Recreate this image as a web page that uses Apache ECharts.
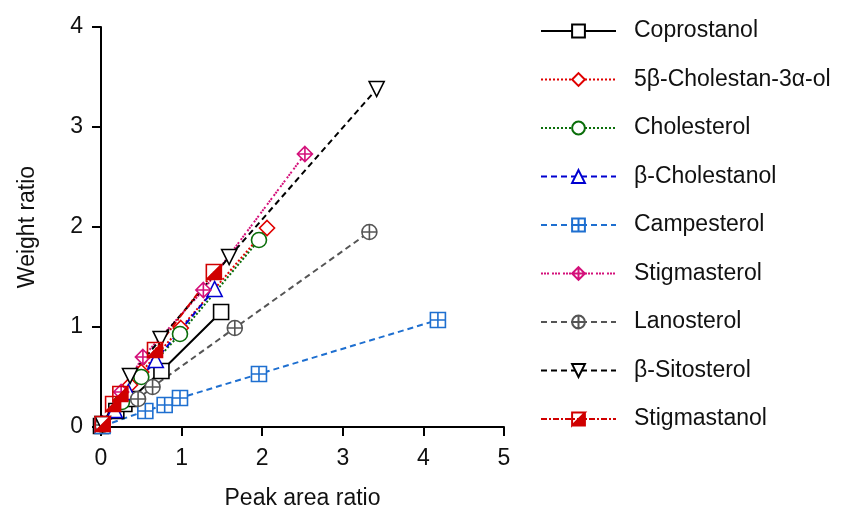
<!DOCTYPE html>
<html>
  <head>
    <title>Calibration</title>
    <style>
      html,
      body {
        height: 100%;
        margin: 0;
        padding: 0;
        background: #fff;
      }
      #chart-container {
        width: 841px;
        height: 508px;
      }
    </style>
    <script src="https://cdn.jsdelivr.net/npm/echarts@6/dist/echarts.min.js"></script>
  </head>
  <body>
    <div id="chart-container"></div>

    <script>
      // 各化合物的数据点 [峰面积比, 重量比]
      var coprostanol = [[0, 0.01], [0.19, 0.16], [0.29, 0.23], [0.37, 0.28], [0.75, 0.56], [1.49, 1.15]];
      var cholestanol5b = [[0.02, 0.03], [0.25, 0.27], [0.36, 0.42], [0.5, 0.55], [0.99, 0.99], [2.06, 1.99]];
      var cholesterol = [[0.02, 0.03], [0.26, 0.25], [0.5, 0.5], [0.98, 0.93], [1.96, 1.87]];
      var bCholestanol = [[0.02, 0.03], [0.17, 0.17], [0.34, 0.35], [0.68, 0.67], [1.41, 1.38]];
      var campesterol = [[0.02, 0.01], [0.55, 0.16], [0.79, 0.22], [0.98, 0.29], [1.96, 0.53], [4.18, 1.07]];
      var stigmasterol = [[0.02, 0.03], [0.25, 0.35], [0.52, 0.7], [1.27, 1.37], [2.53, 2.73]];
      var lanosterol = [[0.02, 0.02], [0.46, 0.28], [0.64, 0.4], [1.66, 0.99], [3.33, 1.95]];
      var bSitosterol = [[0.02, 0.03], [0.36, 0.51], [0.74, 0.88], [1.59, 1.7], [3.42, 3.38]];
      var stigmastanol = [[0.02, 0.03], [0.15, 0.23], [0.24, 0.33], [0.67, 0.77], [1.4, 1.55]];

      var names = [
        "Coprostanol",
        "5β-Cholestan-3α-ol",
        "Cholesterol",
        "β-Cholestanol",
        "Campesterol",
        "Stigmasterol",
        "Lanosterol",
        "β-Sitosterol",
        "Stigmastanol",
      ];

      // 自定义符号
      var sqCross = "path://M0,0 L10,0 L10,10 L0,10 Z M5,0 L5,10 M0,5 L10,5";
      var diaCross = "path://M5,0 L10,5 L5,10 L0,5 Z M5,0 L5,10 M0,5 L10,5";
      var circPlus = "path://M5,0 A5,5 0 1 1 4.99,0 Z M5,0 L5,10 M0,5 L10,5";
      var triDown = "path://M0,0 L10,0 L5,9 Z";
      var halfSq = "path://M0,0 L10,0 L10,10 L0,10 Z M0,0 L0,10 L10,0 Z";

      function mk(name, data, color, type, symbol, fill, width) {
        return {
          name: name,
          type: "line",
          data: data,
          symbol: symbol,
          symbolSize: 15,
          showAllSymbol: true,
          lineStyle: { color: color, type: type, width: width || 2 },
          itemStyle: { color: fill || "#fff", borderColor: color, borderWidth: 1.6 },
          z: 2,
        };
      }

      var myChart = echarts.init(document.getElementById("chart-container"), "", {
        renderer: "canvas",
      });

      var option = {
        animation: false,
        textStyle: { fontFamily: "Liberation Sans, Arial, sans-serif" },
        grid: { left: 101, right: 337, top: 27, bottom: 81, containLabel: false, outerBoundsMode: "none" },
        xAxis: {
          type: "value",
          min: 0,
          max: 5,
          interval: 1,
          name: "Peak area ratio",
          nameLocation: "middle",
          nameGap: 60,
          nameTextStyle: { fontSize: 23, color: "#111" },
          axisLine: { lineStyle: { color: "#000", width: 2 } },
          axisTick: { length: 9, lineStyle: { color: "#000", width: 2 } },
          axisLabel: { fontSize: 23, color: "#111", margin: 20 },
          splitLine: { show: false },
        },
        yAxis: {
          type: "value",
          min: 0,
          max: 4,
          interval: 1,
          name: "Weight ratio",
          nameLocation: "middle",
          nameGap: 62,
          nameTextStyle: { fontSize: 23, color: "#111" },
          axisLine: { lineStyle: { color: "#000", width: 2 } },
          axisTick: { length: 9, lineStyle: { color: "#000", width: 2 } },
          axisLabel: { fontSize: 23, color: "#111", margin: 18 },
          splitLine: { show: false },
        },
        legend: {
          orient: "vertical",
          left: 535,
          top: 14,
          itemWidth: 75,
          itemHeight: 16,
          itemGap: 24.5,
          textStyle: { fontSize: 23, lineHeight: 24, color: "#111", padding: [0, 0, 0, 13] },
          data: names,
        },
        series: [
          mk(names[0], coprostanol, "#000", "solid", "rect", "#fff", 2),
          mk(names[1], cholestanol5b, "#e00000", [2, 2], "diamond"),
          mk(names[2], cholesterol, "#0a6e0a", [2, 2], "circle"),
          mk(names[3], bCholestanol, "#0000d0", [6, 4], "triangle"),
          mk(names[4], campesterol, "#1e6fd0", [6, 4], sqCross),
          mk(names[5], stigmasterol, "#d4107a", [2, 1, 2, 1, 2, 3], diaCross),
          mk(names[6], lanosterol, "#555", [6, 4], circPlus),
          mk(names[7], bSitosterol, "#000", [6, 4], triDown),
          mk(names[8], stigmastanol, "#d00000", [6, 2, 2, 2], halfSq, "#d00000"),
        ],
      };
      myChart.setOption(option);
    </script>
  </body>
</html>
